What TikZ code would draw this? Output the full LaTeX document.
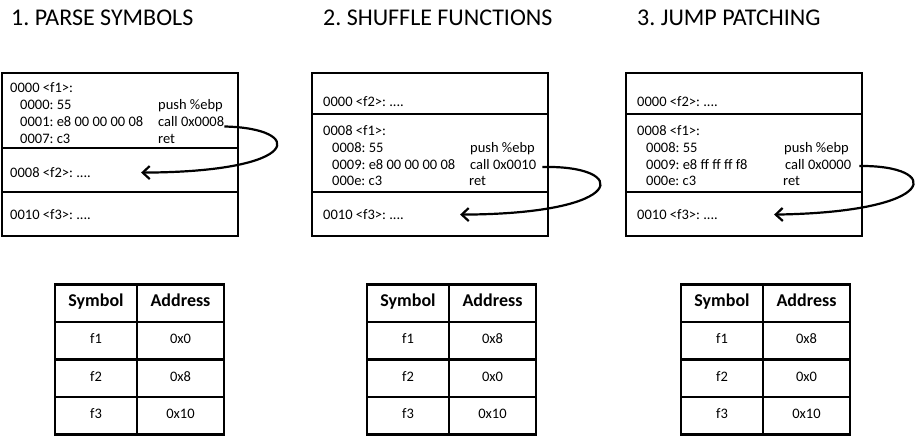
\documentclass[tikz,border=0pt]{standalone}
\usepackage{fontspec}
\setmainfont{Carlito}
\usetikzlibrary{arrows.meta, positioning}
\frenchspacing

\begin{document}
\begin{tikzpicture}[x=1pt, y=-1pt,
    region/.style={draw, line width=2.4pt, rectangle, minimum width=236pt, inner sep=0pt, outer sep=0pt},
    code/.style={anchor=base west, inner sep=0pt, font=\fontsize{14.5}{17}\selectfont},
    title/.style={anchor=base west, inner sep=0pt, font=\fontsize{24}{28}\selectfont},
    cell/.style={draw, line width=2.6pt, rectangle, minimum height=37.5pt, inner sep=0pt, outer sep=0pt, text height=1.5ex, text depth=.3ex, font=\fontsize{14.5}{17}\selectfont},
    head/.style={cell, font=\fontsize{18}{21}\selectfont\bfseries},
    jump/.style={line width=2.2pt, -{Straight Barb[length=7pt,width=13pt,line width=2.2pt]}}]

  \useasboundingbox (0,0) rectangle (915,445);

  \node[title] (parse) at (11,25) {1. PARSE SYMBOLS};
  \node[title] (shuffle) at (323,25) {2. SHUFFLE FUNCTIONS};
  \node[title] (patch) at (637,25) {3. JUMP PATCHING};

  \node[region, minimum height=75pt, anchor=north west] (a1) at (2,73) {};
  \node[region, minimum height=44pt, below=0pt of a1] (a2) {};
  \node[region, minimum height=44pt, below=0pt of a2] (a3) {};

  \node[code] (a1lbl) at (10,92.5) {0000 <f1>:};
  \node[code] (a1push) at (20,109.5) {0000: 55};
  \node[code] (a1pushop) at (158,109.5) {push \%ebp};
  \node[code] (a1callb) at (20,126.5) {0001: e8 00 00 00 08};
  \node[code] (a1call) at (158,126.5) {call 0x0008};
  \node[code] (a1ret) at (20,143.5) {0007: c3};
  \node[code] (a1retop) at (158,143.5) {ret};
  \node[code] (a2lbl) at (10,177.5) {0008 <f2>: ....};
  \node[code] (a3lbl) at (10,219.5) {0010 <f3>: ....};

  \draw[jump] (a1call.base east) .. controls (305,128) and (305,172) .. ([xshift=50pt]a2lbl.east);

  \node[region, minimum height=41pt, anchor=north west] (b1) at (312,73) {};
  \node[region, minimum height=78pt, below=0pt of b1] (b2) {};
  \node[region, minimum height=44pt, below=0pt of b2] (b3) {};

  \node[code] (b1lbl) at (323,106.5) {0000 <f2>: ....};
  \node[code] (b2lbl) at (323,135.5) {0008 <f1>:};
  \node[code] (b2push) at (332,152) {0008: 55};
  \node[code] (b2pushop) at (470,152) {push \%ebp};
  \node[code] (b2callb) at (332,169) {0009: e8 00 00 00 08};
  \node[code] (b2call) at (470,169) {call 0x0010};
  \node[code] (b2ret) at (332,185.5) {000e: c3};
  \node[code] (b2retop) at (469,185.5) {ret};
  \node[code] (b3lbl) at (323,219.5) {0010 <f3>: ....};

  \draw[jump] ([xshift=6pt, yshift=2pt]b2call.base east) .. controls (630,165) and (630,214) .. ([xshift=56pt]b3lbl.east);

  \node[region, minimum height=41pt, anchor=north west] (c1) at (626,73) {};
  \node[region, minimum height=78pt, below=0pt of c1] (c2) {};
  \node[region, minimum height=44pt, below=0pt of c2] (c3) {};

  \node[code] (c1lbl) at (637,106.5) {0000 <f2>: ....};
  \node[code] (c2lbl) at (637,135.5) {0008 <f1>:};
  \node[code] (c2push) at (646,152) {0008: 55};
  \node[code] (c2pushop) at (784,152) {push \%ebp};
  \node[code] (c2callb) at (646,169) {0009: e8 ff ff ff f8};
  \node[code] (c2call) at (785,169) {call 0x0000};
  \node[code] (c2ret) at (646,185.5) {000e: c3};
  \node[code] (c2retop) at (783,185.5) {ret};
  \node[code] (c3lbl) at (637,219.5) {0010 <f3>: ....};

  \draw[jump] ([xshift=8pt, yshift=3pt]c2call.base east) .. controls (942,165) and (942,212) .. ([xshift=56pt]c3lbl.east);

  \node[head, minimum width=82pt, anchor=north west] (t1h1) at (55,284.5) {Symbol};
  \node[head, minimum width=87pt, right=0pt of t1h1] (t1h2) {Address};
  \node[cell, minimum width=82pt, below=0pt of t1h1] (t1a1) {f1};
  \node[cell, minimum width=87pt, right=0pt of t1a1] (t1a2) {0x0};
  \node[cell, minimum width=82pt, below=0pt of t1a1] (t1b1) {f2};
  \node[cell, minimum width=87pt, right=0pt of t1b1] (t1b2) {0x8};
  \node[cell, minimum width=82pt, below=0pt of t1b1] (t1c1) {f3};
  \node[cell, minimum width=87pt, right=0pt of t1c1] (t1c2) {0x10};

  \node[head, minimum width=82pt, anchor=north west] (t2h1) at (367,284.5) {Symbol};
  \node[head, minimum width=87pt, right=0pt of t2h1] (t2h2) {Address};
  \node[cell, minimum width=82pt, below=0pt of t2h1] (t2a1) {f1};
  \node[cell, minimum width=87pt, right=0pt of t2a1] (t2a2) {0x8};
  \node[cell, minimum width=82pt, below=0pt of t2a1] (t2b1) {f2};
  \node[cell, minimum width=87pt, right=0pt of t2b1] (t2b2) {0x0};
  \node[cell, minimum width=82pt, below=0pt of t2b1] (t2c1) {f3};
  \node[cell, minimum width=87pt, right=0pt of t2c1] (t2c2) {0x10};

  \node[head, minimum width=82pt, anchor=north west] (t3h1) at (681,284.5) {Symbol};
  \node[head, minimum width=87pt, right=0pt of t3h1] (t3h2) {Address};
  \node[cell, minimum width=82pt, below=0pt of t3h1] (t3a1) {f1};
  \node[cell, minimum width=87pt, right=0pt of t3a1] (t3a2) {0x8};
  \node[cell, minimum width=82pt, below=0pt of t3a1] (t3b1) {f2};
  \node[cell, minimum width=87pt, right=0pt of t3b1] (t3b2) {0x0};
  \node[cell, minimum width=82pt, below=0pt of t3b1] (t3c1) {f3};
  \node[cell, minimum width=87pt, right=0pt of t3c1] (t3c2) {0x10};
\end{tikzpicture}
\end{document}
